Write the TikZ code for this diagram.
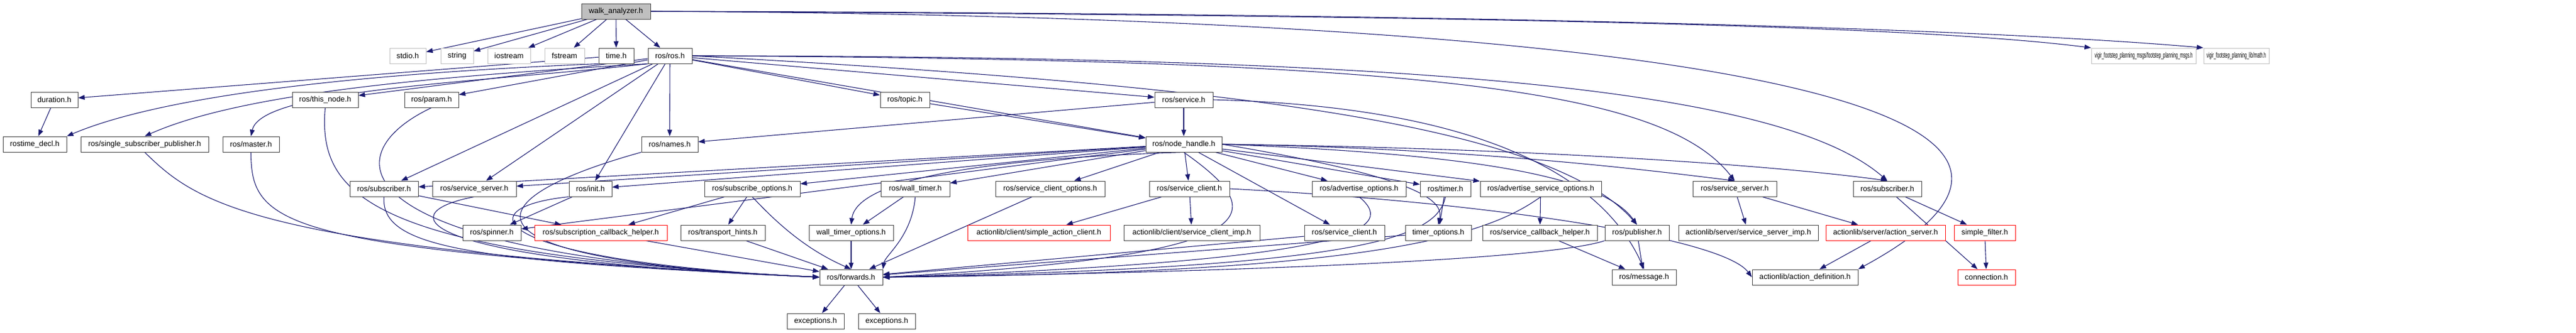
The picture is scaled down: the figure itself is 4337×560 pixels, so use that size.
\documentclass[tikz,border=0pt]{standalone}
\usepackage{fontspec}
\setmainfont{Liberation Sans}
\usetikzlibrary{arrows.meta}
\pgfdeclarelayer{bg}
\pgfsetlayers{bg,main}
\definecolor{edge}{HTML}{191970}
\definecolor{grayfill}{HTML}{BFBFBF}
\definecolor{grayline}{HTML}{BFBFBF}
\tikzset{
  box/.style={draw=black!75,line width=1pt,inner sep=0pt,minimum height=26pt,font=\fontsize{12.8pt}{15pt}\selectfont,fill=white},
  ext/.style={draw=grayline},
  redb/.style={draw=red},
  root/.style={fill=grayfill},
  dep/.style={draw=edge,line width=1.1pt,-{Triangle[length=11pt,width=8pt]}},
}
\newcommand\bx[6]{\node[box,#6,minimum width={(#3-#2)*1pt}] (#1) at ({(#2+#3)/2},{#4+13}) {#5};}
\begin{document}
\begin{tikzpicture}[x=1pt,y=-1pt]
\useasboundingbox (0,0) rectangle (4337,560);
% row 1
\bx{walk}{979}{1095}{6}{walk\_analyzer.h}{root}
% row 2
\bx{stdio}{656}{717}{81}{stdio.h}{ext}
\bx{string}{742}{797}{81}{string}{ext}
\bx{iostream}{821}{893}{81}{iostream}{ext}
\bx{fstream}{917}{984}{81}{fstream}{ext}
\bx{time}{1008}{1067}{81}{time.h}{}
\bx{ros}{1091}{1165}{81}{ros/ros.h}{}
\bx{msgs}{3521}{3697}{81}{\resizebox{165pt}{\height}{vigir\_footstep\_planning\_msgs/footstep\_planning\_msgs.h}}{ext}
\bx{math}{3710}{3820}{81}{\resizebox{100pt}{\height}{vigir\_footstep\_planning\_lib/math.h}}{ext}
% row 3
\bx{duration}{52}{131}{155}{duration.h}{}
\bx{thisnode}{492}{603}{155}{ros/this\_node.h}{}
\bx{param}{681}{772}{155}{ros/param.h}{}
\bx{topic}{1482}{1565}{155}{ros/topic.h}{}
\bx{service}{1944}{2042}{155}{ros/service.h}{}
% row 4
\bx{rtd}{5}{112}{230}{rostime\_decl.h}{}
\bx{ssp}{136}{351}{230}{ros/single\_subscriber\_publisher.h}{}
\bx{master}{375}{470}{230}{ros/master.h}{}
\bx{names}{1080}{1175}{230}{ros/names.h}{}
\bx{nh}{1929}{2057}{230}{ros/node\_handle.h}{}
% row 5
\bx{subL}{589}{704}{305}{ros/subscriber.h}{}
\bx{ssL}{728}{869}{305}{ros/service\_server.h}{}
\bx{init}{958}{1030}{305}{ros/init.h}{}
\bx{subopt}{1186}{1347}{305}{ros/subscribe\_options.h}{}
\bx{walltimer}{1483}{1599}{305}{ros/wall\_timer.h}{}
\bx{sco}{1676}{1860}{305}{ros/service\_client\_options.h}{}
\bx{scA}{1935}{2070}{305}{ros/service\_client.h}{}
\bx{advopt}{2209}{2367}{305}{ros/advertise\_options.h}{}
\bx{timer}{2391}{2476}{305}{ros/timer.h}{}
\bx{aso}{2492}{2696}{305}{ros/advertise\_service\_options.h}{}
\bx{ssR}{2850}{2991}{305}{ros/service\_server.h}{}
\bx{subR}{3120}{3235}{305}{ros/subscriber.h}{}
% row 6
\bx{spinner}{779}{877}{379}{ros/spinner.h}{}
\bx{sch}{900}{1123}{379}{ros/subscription\_callback\_helper.h}{redb}
\bx{th}{1146}{1288}{379}{ros/transport\_hints.h}{}
\bx{wto}{1362}{1504}{379}{wall\_timer\_options.h}{}
\bx{sac}{1629}{1869}{379}{actionlib/client/simple\_action\_client.h}{redb}
\bx{sci}{1892}{2121}{379}{actionlib/client/service\_client\_imp.h}{}
\bx{sc}{2196}{2331}{379}{ros/service\_client.h}{}
\bx{to}{2366}{2477}{379}{timer\_options.h}{}
\bx{schb}{2496}{2689}{379}{ros/service\_callback\_helper.h}{}
\bx{pub}{2702}{2810}{379}{ros/publisher.h}{}
\bx{ssi}{2826}{3061}{379}{actionlib/server/service\_server\_imp.h}{}
\bx{as}{3074}{3275}{379}{actionlib/server/action\_server.h}{redb}
\bx{sf}{3290}{3393}{379}{simple\_filter.h}{redb}
% row 7
\bx{fwd}{1380}{1486}{454}{ros/forwards.h}{}
\bx{msg}{2714}{2822}{454}{ros/message.h}{}
\bx{ad}{2950}{3128}{454}{actionlib/action\_definition.h}{}
\bx{conn}{3296}{3393}{454}{connection.h}{redb}
% row 8
\bx{exa}{1325}{1421}{528}{exceptions.h}{}
\bx{exb}{1445}{1541}{528}{exceptions.h}{}

\begin{pgfonlayer}{bg}
\foreach \t in {stdio,string,iostream,fstream,time,ros} \draw[dep] (walk) -- (\t);
\draw[dep] (walk.east) .. controls (2400,26) and (3200,40) .. (msgs.north west);
\draw[dep] (walk.east) .. controls (2400,22) and (3300,45) .. (math.north west);
\draw[dep] (walk.east) .. controls (2800,28) and (3650,170) .. (ad.north east);
\draw[dep] (time) -- (duration);
\draw[dep] (time.south west) .. controls (700,120) and (300,150) .. (rtd.north east);
\draw[dep] (duration) -- (rtd);
\foreach \t in {thisnode,param,subL,ssL,init,names,topic,service,nh} \draw[dep] (ros) -- (\t);
\draw[dep] (ros.south west) .. controls (700,130) and (400,160) .. (ssp.north);
\draw[dep] (ros.south west) .. controls (800,140) and (440,150) .. (master.north);
\draw[dep] (ros.east) .. controls (2000,140) and (2600,200) .. (pub.north);
\draw[dep] (ros.east) .. controls (2400,100) and (2800,150) .. (ssR.north);
\draw[dep] (ros.east) .. controls (2400,95) and (3000,150) .. (subR.north);
\draw[dep] (thisnode.south) .. controls (535,330) and (620,430) .. (fwd.west);
\draw[dep] (param.south) .. controls (560,260) and (560,430) .. (fwd.west);
\draw[dep] (ssp.south) .. controls (330,340) and (420,420) .. (fwd.west);
\draw[dep] (master.south) .. controls (423,380) and (470,420) .. (fwd.west);
\draw[dep] (subL.south) .. controls (640,420) and (800,440) .. (fwd.west);
\draw[dep] (ssL.south) .. controls (650,360) and (700,440) .. (fwd.west);
\draw[dep] (names.south west) .. controls (780,340) and (760,440) .. (fwd.west);
\draw[dep] (init.south west) .. controls (780,350) and (820,440) .. (fwd.west);
\draw[dep] (subL) -- (sch);
\draw[dep] (init) -- (spinner);
\draw[dep] (topic) -- (nh);
\draw[dep] (service) -- (nh);
\draw[dep] (service) -- (names);
\draw[dep] (service.east) .. controls (2500,180) and (2700,300) .. (msg.north);
\foreach \t in {subL,ssL,init,spinner,subopt,walltimer,sco,scA,sc,advopt,timer,aso} \draw[dep] (nh) -- (\t);
\draw[dep] (nh.south) .. controls (1560,270) and (1440,320) .. (wto.north);
\draw[dep] (nh.east) .. controls (2500,260) and (2700,300) .. (pub.north);
\draw[dep] (nh.east) .. controls (2500,250) and (2800,290) .. (ssR.north);
\draw[dep] (nh.east) .. controls (2600,250) and (3000,280) .. (subR.north);
\draw[dep] (nh.south) .. controls (2140,360) and (2150,430) .. (fwd.east);
\draw[dep] (nh.east) .. controls (2400,300) and (2430,340) .. (to.north);
\draw[dep] (subopt) -- (sch);
\draw[dep] (subopt) -- (th);
\draw[dep] (subopt.south) .. controls (1330,400) and (1380,430) .. (fwd.north);
\draw[dep] (th) -- (fwd);
\draw[dep] (sch) -- (fwd);
\draw[dep] (wto) -- (fwd);
\draw[dep] (walltimer) -- (wto);
\draw[dep] (walltimer.south) .. controls (1535,400) and (1490,430) .. (fwd.north east);
\draw[dep] (sco) -- (fwd);
\draw[dep] (scA) -- (sac);
\draw[dep] (scA) -- (sci);
\draw[dep] (scA.east) .. controls (2500,340) and (2900,400) .. (ad.west);
\draw[dep] (sc) -- (fwd);
\draw[dep] (advopt.south) .. controls (2360,390) and (2260,440) .. (fwd.east);
\draw[dep] (timer.south) .. controls (2420,400) and (2300,450) .. (fwd.east);
\draw[dep] (timer) -- (to);
\draw[dep] (to) -- (fwd);
\draw[dep] (aso) -- (schb);
\draw[dep] (aso.south) .. controls (2500,400) and (2300,460) .. (fwd.east);
\draw[dep] (schb) -- (msg);
\draw[dep] (pub) -- (msg);
\draw[dep] (pub.south west) .. controls (2600,440) and (2000,460) .. (fwd.east);
\draw[dep] (ssR) -- (ssi);
\draw[dep] (ssR) -- (as);
\draw[dep] (as) -- (ad);
\draw[dep] (subR) -- (sf);
\draw[dep] (subR) -- (conn);
\draw[dep] (sf) -- (conn);
\draw[dep] (fwd) -- (exa);
\draw[dep] (fwd) -- (exb);
\end{pgfonlayer}
\end{tikzpicture}
\end{document}
